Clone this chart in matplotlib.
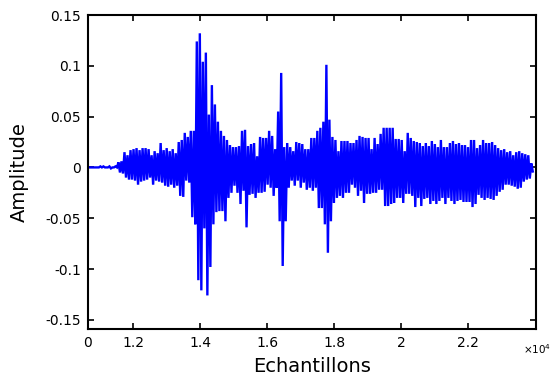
import numpy as np
import matplotlib
matplotlib.use('Agg')
import matplotlib.pyplot as plt

##############################################################################
# Signal de parole : crêtes positives / négatives (x 1e-3),
# une colonne tous les ~90 échantillons, à partir de l'échantillon 10660.
#-----------------------------------------------------------------------------
debut = [0, 0, 0, 0, 1, 1, 0, 1, 0, 1]
debut_neg = [0, 0, 0, 0, 0, 0, 0, -1, 0, 0]

crete_pos = (
    [5, 6, 15, 12, 17, 18, 19, 17, 19, 19, 18, 12, 16, 14, 24, 17, 19, 16, 18, 14, 25, 27]
    + [34, 30, 36, 36, 124, 132, 104, 113, 52, 81, 62, 45, 36, 31, 27, 22, 20, 20, 21, 36, 37, 21, 23]
    + [24, 11, 30, 29, 29, 36, 31, 18, 55, 93, 20, 24, 20, 16, 25, 24, 23, 18, 18, 29, 29, 36, 39]
    + [45, 101, 47, 30, 27, 16, 26, 26, 26, 24, 24, 27, 31, 30, 29, 29, 18, 29, 23, 33, 39, 39, 39]
    + [39, 28, 28, 27, 16, 34, 29, 26, 25, 24, 21, 24, 21, 26, 23, 20, 27, 20, 20, 24, 26, 23, 24, 22]
    + [22, 20, 27, 27, 19, 22, 27, 24, 24, 25, 22, 19, 17, 18, 15, 16, 12, 15, 16, 14, 13, 12, 4]
)
crete_neg = (
    [-5, -6, -10, -12, -12, -13, -17, -14, -13, -12, -10, -17, -13, -14, -15, -18, -19, -17, -20, -18, -28, -29]
    + [-13, -15, -49, -56, -111, -121, -60, -126, -98, -56, -44, -43, -43, -53, -30, -25, -18, -25, -36, -23, -59, -27, -26]
    + [-30, -25, -25, -24, -17, -20, -28, -20, -53, -97, -53, -20, -13, -18, -13, -20, -15, -22, -20, -23, -20, -40, -40]
    + [-56, -84, -53, -35, -30, -28, -30, -25, -25, -17, -20, -28, -23, -35, -26, -26, -25, -25, -22, -22, -38, -38, -36]
    + [-35, -30, -30, -35, -26, -26, -28, -39, -30, -38, -31, -30, -36, -33, -36, -33, -30, -36, -30, -33, -36, -33, -32, -34]
    + [-34, -34, -39, -36, -27, -30, -32, -30, -31, -32, -28, -24, -22, -17, -17, -18, -19, -21, -20, -14, -12, -11, -4]
)

n0 = 10660      # premier echantillon
pas = 45        # pas entre deux valeurs

xticks = [10650, 12000, 14000, 16000, 18000, 20000, 22000]
xlabels = ['0', '1.2', '1.4', '1.6', '1.8', '2', '2.2']
yticks = [-0.15, -0.1, -0.05, 0, 0.05, 0.1, 0.15]
ylabels = ['-0.15', '-0.1', '-0.05', '0', '0.05', '0.1', '0.15']
#============================================================================

hi = np.array(debut + crete_pos, dtype=float)
lo = np.array(debut_neg + crete_neg, dtype=float)
sig = np.empty(2 * len(hi))
sig[0::2] = hi
sig[1::2] = lo
sig = sig * 1e-3
n = n0 + pas * np.arange(len(sig))

plt.rcParams['font.family'] = ['DejaVu Sans']
fig = plt.figure(figsize=(5.5, 3.79), dpi=100)
ax = fig.add_axes([0.16, 0.132, 0.8145, 0.8284])

ax.plot(n, sig, color=(0, 0, 1), lw=1.7, solid_joinstyle='miter')

ax.set_xlim(10650, 24030)
ax.set_ylim(-0.159, 0.15)
ax.set_xticks(xticks)
ax.set_xticklabels(xlabels)
ax.set_yticks(yticks)
ax.set_yticklabels(ylabels)
ax.tick_params(direction='in', length=4, width=1.2, top=True, right=True,
               labelsize=10, pad=5)
for s in ax.spines.values():
    s.set_linewidth(1.5)

ax.set_xlabel('Echantillons', fontsize=14, labelpad=5)
ax.set_ylabel('Amplitude', fontsize=14, labelpad=12)
fig.text(537 / 550, 1 - 349 / 379, r'$\times10^{4}$', fontsize=7.5,
         ha='center', va='center')

fig.savefig('out.png', dpi=100)
